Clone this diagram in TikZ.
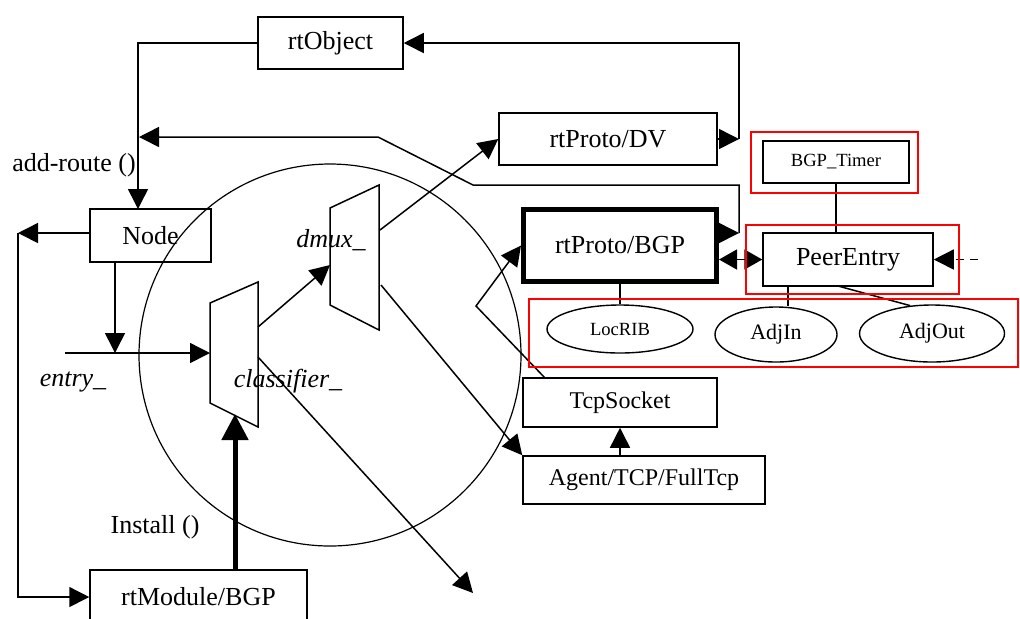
\documentclass[tikz,border=0pt]{standalone}
\usepackage{fontspec}
\setmainfont{Liberation Serif}
\usetikzlibrary{arrows.meta,calc,shapes.geometric}
\begin{document}
\begin{tikzpicture}[x=0.5pt,y=-0.5pt,
  box/.style={draw, line width=0.75pt, inner sep=0pt, font=\fontsize{13}{15}\selectfont},
  ell/.style={draw, ellipse, line width=0.7pt, inner sep=0pt},
  arr/.style={line width=0.75pt, -{Triangle[length=10pt,width=10pt]}},
  dbl/.style={line width=0.75pt, {Triangle[length=9pt,width=10pt]}-{Triangle[length=9pt,width=10pt]}},
  thickarr/.style={line width=2.5pt, -{Triangle[length=13pt,width=13pt]}},
  ln/.style={line width=0.75pt},
  redbox/.style={draw=red, line width=1pt},
  lbl/.style={font=\fontsize{13}{15}\selectfont, inner sep=0pt},
  ilbl/.style={font=\fontsize{13}{15}\selectfont\itshape, inner sep=0pt},
]
\useasboundingbox (0,0) rectangle (1020,618);
\clip (0,0) rectangle (1020,618);
\fill[white] (0,0) rectangle (1020,618);

% boxes
\node[box, minimum width=72.5pt, minimum height=26pt] (rtobj) at (330.5,43) {rtObject};
\node[box, minimum width=109pt, minimum height=26pt] (dv) at (608,139) {rtProto/DV};
\node[box, line width=2.5pt, minimum width=96.5pt, minimum height=36pt] (bgp) at (620,245.5) {rtProto/BGP};
\node[box, minimum width=73pt, minimum height=21pt, font=\fontsize{9.3}{11}\selectfont] (timer) at (836,162) {BGP\_Timer};
\node[box, minimum width=85pt, minimum height=26.5pt] (pe) at (848,259.5) {PeerEntry};
\node[box, minimum width=60.5pt, minimum height=26.5pt] (node) at (150.5,235.5) {Node};
\node[box, minimum width=97pt, minimum height=24.5pt, font=\fontsize{12}{14}\selectfont] (ts) at (620,402.5) {TcpSocket};
\node[box, minimum width=121pt, minimum height=24pt, font=\fontsize{12}{14}\selectfont] (agent) at (644,480) {Agent/TCP/FullTcp};
\node[box, minimum width=108.5pt, minimum height=27pt] (rtmod) at (198.5,597) {rtModule/BGP};

% ellipses
\node[ell, minimum width=73pt, minimum height=24pt, font=\fontsize{9.3}{11}\selectfont] (locrib) at (620,329) {LocRIB};
\node[ell, minimum width=61pt, minimum height=27.5pt, font=\fontsize{11}{13}\selectfont] (adjin) at (776,334.5) {AdjIn};
\node[ell, minimum width=72.5pt, minimum height=28.5pt, font=\fontsize{11}{13}\selectfont] (adjout) at (932,333.5) {AdjOut};

% trapezoids (classifier_ and dmux_)
\coordinate (clsA) at (210,303); \coordinate (clsB) at (258,282);
\coordinate (clsC) at (258,427); \coordinate (clsD) at (210,403);
\draw[ln] (clsA) -- (clsB) -- (clsC) -- (clsD) -- cycle;
\coordinate (dmA) at (330,208); \coordinate (dmB) at (379,185);
\coordinate (dmC) at (379,330); \coordinate (dmD) at (330,305);
\draw[ln] (dmA) -- (dmB) -- (dmC) -- (dmD) -- cycle;

% big circle
\coordinate (cc) at (330,355);
\draw[line width=0.6pt] (cc) circle[radius=95.5pt];

% labels
\node[lbl] (addroute) at (74,165) {add-route ()};
\node[lbl] (install) at (155,527) {Install ()};
\node[ilbl] (entry) at (73,382) {entry\_};
\node[ilbl] (clslbl) at (288,381) {classifier\_};
\node[ilbl] (dmlbl) at (331,240) {dmux\_};

% named coordinates
\coordinate (nodeIn) at (138,209);
\coordinate (dvj) at (739,139);
\coordinate (bgpj) at (739,233);
\coordinate (bgpk) at (739,185);
\coordinate (bgpl) at (473,185);
\coordinate (bgpm) at (378,137);
\coordinate (nodeLine) at (139,137);
\coordinate (peIn) at (978,259.5);
\coordinate (peA) at (788,286);
\coordinate (peB) at (838,286);
\coordinate (tsTop) at (545,378);
\coordinate (kink) at (476,306);
\coordinate (dmOut1) at (380,230);
\coordinate (dmOut2) at (381,285);
\coordinate (clsOut1) at (258,327);
\coordinate (dmIn) at (330,265);
\coordinate (clsOut2) at (258,357);
\coordinate (freeEnd) at (473,593);
\coordinate (nodeBot) at (115,262);
\coordinate (entryJ) at (115,353);
\coordinate (entryStart) at (65,353);
\coordinate (clsIn) at (210,353);
\coordinate (leftJ) at (18,233);
\coordinate (rtmodTop) at (235,570);
\coordinate (clsBot) at (235,414);

% connectors
\draw[arr] (rtobj.west) -| (nodeIn);
\draw[arr] (dv.east) -- (dvj);
\draw[arr] (dvj) |- (rtobj.east);
\draw[arr] (bgp.east |- bgpj) -- (bgpj);
\draw[arr] (bgpj) -- (bgpk) -- (bgpl) -- (bgpm) -- (nodeLine);
\draw[dbl] (bgp.east |- pe.west) -- (pe.west);
\draw[arr, dash pattern=on 4pt off 3pt] (peIn) -- (pe.east);
\draw[ln] (timer.south) -- (timer.south |- pe.north);
\draw[ln] (peA) -- (peA |- adjin.north);
\draw[ln] (peB) -- (adjout.128);
\draw[ln] (bgp.south) -- (locrib.north);
\draw[arr] (tsTop) -- (kink) -- (bgp.west);
\draw[arr] (ts.south |- agent.north) -- (ts.south);
\draw[arr] (dmOut2) -- (agent.north west);
\draw[arr] (dmOut1) -- (dv.west);
\draw[arr] (clsOut1) -- (dmIn);
\draw[arr] (clsOut2) -- (freeEnd);
\draw[arr] (nodeBot) -- (entryJ);
\draw[arr] (entryStart) -- (clsIn);
\draw[arr] (node.west |- leftJ) -- (leftJ);
\draw[arr] (leftJ) |- (rtmod.west);
\draw[thickarr] (rtmodTop) -- (clsBot);

% red highlight boxes
\draw[redbox] (751,132) rectangle (918,193);
\draw[redbox] (746,225) rectangle (959,294);
\draw[redbox] (529,299) rectangle (1018,367);
\end{tikzpicture}
\end{document}
